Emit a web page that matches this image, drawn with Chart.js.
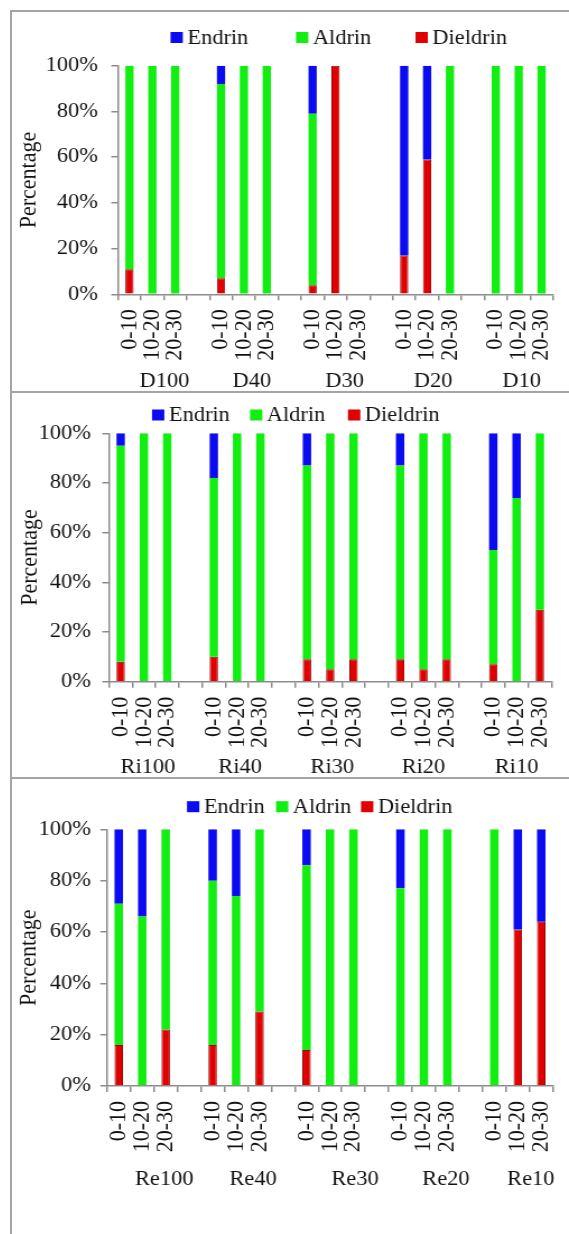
<!DOCTYPE html>
<html>
<head>
<meta charset="utf-8">
<script src="https://cdn.jsdelivr.net/npm/chart.js@4.4.0/dist/chart.umd.min.js"></script>
<style>
  html, body { margin: 0; padding: 0; background: #fff; }
  body { width: 569px; height: 1234px; position: relative; overflow: hidden; }
  .rule { position: absolute; background: #a4a4a4; }
  .panel { position: absolute; left: 12px; transform-origin: 0 0; }
  .panel canvas { display: block; }
</style>
</head>
<body>
<div class="rule" style="left:10px;top:10px;width:2px;height:1224px"></div>
<div class="rule" style="left:10px;top:10px;width:559px;height:2px"></div>
<div class="rule" style="left:10px;top:391px;width:559px;height:2px"></div>
<div class="rule" style="left:10px;top:777px;width:559px;height:2px"></div>

<div class="panel" id="p1"><canvas id="c1"></canvas></div>
<div class="panel" id="p2"><canvas id="c2"></canvas></div>
<div class="panel" id="p3"><canvas id="c3"></canvas></div>

<script>
// Soil depth intervals (cm) sampled at every site
const depths = ['0-10', '10-20', '20-30'];

// Panel 1: D sites
const dSites    = ['D100', 'D40', 'D30', 'D20', 'D10'];
const dEndrin   = [0, 0, 0,    8, 0, 0,    21, 0, 0,    83, 41, 0,    0, 0, 0];
const dAldrin   = [89, 100, 100, 85, 100, 100, 75, 0, 0, 0, 0, 100,  100, 100, 100];
const dDieldrin = [11, 0, 0,   7, 0, 0,    4, 100, 0,   17, 59, 0,    0, 0, 0];

// Panel 2: Ri sites
const riSites    = ['Ri100', 'Ri40', 'Ri30', 'Ri20', 'Ri10'];
const riEndrin   = [5, 0, 0,    18, 0, 0,    13, 0, 0,   13, 0, 0,   47, 26, 0];
const riAldrin   = [87, 100, 100, 72, 100, 100, 78, 95, 91, 78, 95, 91, 46, 74, 71];
const riDieldrin = [8, 0, 0,    10, 0, 0,    9, 5, 9,    9, 5, 9,    7, 0, 29];

// Panel 3: Re sites
const reSites    = ['Re100', 'Re40', 'Re30', 'Re20', 'Re10'];
const reEndrin   = [29, 34, 0,  20, 26, 0,   14, 0, 0,   23, 0, 0,    0, 39, 36];
const reAldrin   = [55, 66, 78, 64, 74, 71,  72, 100, 100, 77, 100, 100, 100, 0, 0];
const reDieldrin = [16, 0, 22,  16, 0, 29,   14, 0, 0,   0, 0, 0,     0, 61, 64];

// Y axis ticks
const percentTicks = [0, 20, 40, 60, 80, 100];

const COLORS = { Endrin: '#0b0bf2', Aldrin: '#12ee12', Dieldrin: '#e00000' };
const SERIF = '"Liberation Serif", "Times New Roman", serif';

// Canvas is drawn 497 px wide and widened to 557 px on the page
const CANVAS_W = 497;
const STRETCH = 557 / CANVAS_W;
const LEFT = 12;
const ix = x => (x - LEFT) / STRETCH;

// Page geometry of each panel (page pixels)
const panels = [
  { id: 'p1', canvas: 'c1', top: 12,  height: 379, sites: dSites,  E: dEndrin,  A: dAldrin,  D: dDieldrin,
    axisL: 118, axisR: 553, plotT: 65.7,  plotB: 294.3, legendY: 37.5,  legendX: [170.5, 296, 415.5],
    groupY: 382,  groupShift: [12, 8, 9, 6, 3],  tickRight: 98, titleX: 29 },
  { id: 'p2', canvas: 'c2', top: 393, height: 384, sites: riSites, E: riEndrin, A: riAldrin, D: riDieldrin,
    axisL: 109, axisR: 551.5, plotT: 433.3, plotB: 681.7, legendY: 415,  legendX: [152, 250, 348],
    groupY: 768,  groupShift: [4, 3, 2, 0, 0],  tickRight: 91, titleX: 30 },
  { id: 'p3', canvas: 'c3', top: 779, height: 455, sites: reSites, E: reEndrin, A: reAldrin, D: reDieldrin,
    axisL: 107, axisR: 553, plotT: 829.3, plotB: 1086, legendY: 806.7, legendX: [187, 276, 361],
    groupY: 1180, groupShift: [22, 17, 25, 22, 13], tickRight: 91, titleX: 29 }
];

// Categories: three depths per site, an empty slot between sites
function buildLabels(sites) {
  const out = [];
  sites.forEach((s, g) => {
    depths.forEach(d => out.push(d));
    if (g < sites.length - 1) out.push('');
  });
  return out;
}
function spread(values, sites) {
  const out = [];
  sites.forEach((s, g) => {
    for (let k = 0; k < depths.length; k++) out.push(values[g * depths.length + k]);
    if (g < sites.length - 1) out.push(null);
  });
  return out;
}

// Legend boxes and site names under each group of depth labels
const panelText = {
  id: 'panelText',
  afterDraw(chart, args, opts) {
    const ctx = chart.ctx;
    const xs = chart.scales.x;
    ctx.save();
    ctx.font = '20px ' + SERIF;
    ctx.textBaseline = 'middle';
    const items = chart.data.datasets.slice().reverse();
    items.forEach((ds, i) => {
      const x = opts.legendX[i];
      ctx.fillStyle = ds.backgroundColor;
      ctx.fillRect(x, opts.legendY - 5.5, 11, 11);
      ctx.fillStyle = '#111';
      ctx.textAlign = 'left';
      ctx.fillText(ds.label, x + 15, opts.legendY + 1);
    });
    ctx.textAlign = 'center';
    ctx.fillStyle = '#111';
    opts.sites.forEach((s, g) => {
      const mid = g * (depths.length + 1) + 1;
      ctx.fillText(s, xs.getPixelForValue(mid) + opts.groupShift[g], opts.groupY);
    });
    ctx.restore();
  }
};

panels.forEach(p => {
  const H = p.height;
  const div = document.getElementById(p.id);
  div.style.top = p.top + 'px';
  div.style.width = CANVAS_W + 'px';
  div.style.height = H + 'px';
  div.style.transform = 'scaleX(' + STRETCH + ')';
  const cv = document.getElementById(p.canvas);
  cv.width = CANVAS_W;
  cv.height = H;

  const plotTop = p.plotT - p.top;
  const plotBottom = p.plotB - p.top;
  const axisLeft = ix(p.axisL);
  const axisRight = ix(p.axisR);
  const yGap = ix(p.axisL) - ix(p.tickRight);

  new Chart(cv, {
    type: 'bar',
    data: {
      labels: buildLabels(p.sites),
      datasets: [
        { label: 'Dieldrin', data: spread(p.D, p.sites), backgroundColor: COLORS.Dieldrin,
          borderColor: '#9a0000', borderWidth: c => (c.raw ? 1 : 0), borderSkipped: 'start' },
        { label: 'Aldrin', data: spread(p.A, p.sites), backgroundColor: COLORS.Aldrin, borderWidth: 0 },
        { label: 'Endrin', data: spread(p.E, p.sites), backgroundColor: COLORS.Endrin, borderWidth: 0 }
      ]
    },
    options: {
      responsive: false,
      animation: false,
      events: [],
      barPercentage: 0.36,
      categoryPercentage: 1,
      layout: { padding: { top: plotTop, right: CANVAS_W - axisRight, left: 0, bottom: 0 } },
      plugins: {
        legend: { display: false },
        tooltip: { enabled: false },
        panelText: {
          legendX: p.legendX.map(ix),
          legendY: p.legendY - p.top,
          sites: p.sites,
          groupY: p.groupY - p.top,
          groupShift: p.groupShift.map(v => v / STRETCH)
        }
      },
      scales: {
        x: {
          stacked: true,
          offset: true,
          border: { color: '#8c8c8c', width: 1.5 },
          grid: { drawOnChartArea: false, drawTicks: true, tickLength: 6, color: '#8c8c8c', lineWidth: 1.5 },
          ticks: {
            autoSkip: false, maxRotation: 90, minRotation: 90, padding: 9,
            color: '#111', font: { family: SERIF, size: 22 }
          },
          afterFit(scale) {
            scale.height = H - plotBottom;
            scale.paddingLeft = 0;
            scale.paddingRight = 0;
          }
        },
        y: {
          stacked: true,
          min: 0,
          max: 100,
          afterBuildTicks(scale) { scale.ticks = percentTicks.map(v => ({ value: v })); },
          border: { color: '#8c8c8c', width: 1.5 },
          grid: { drawOnChartArea: false, drawTicks: true, tickLength: 6, color: '#8c8c8c', lineWidth: 1.5 },
          ticks: {
            padding: yGap - 6,
            color: '#111',
            font: { family: SERIF, size: 20 },
            callback: v => v + '%'
          },
          title: {
            display: true, text: 'Percentage', color: '#111',
            font: { family: SERIF, size: 22 },
            padding: { top: ix(p.titleX) - 13.2, bottom: 0 }
          },
          afterFit(scale) { scale.width = axisLeft; }
        }
      }
    },
    plugins: [panelText]
  });
});
</script>
</body>
</html>
